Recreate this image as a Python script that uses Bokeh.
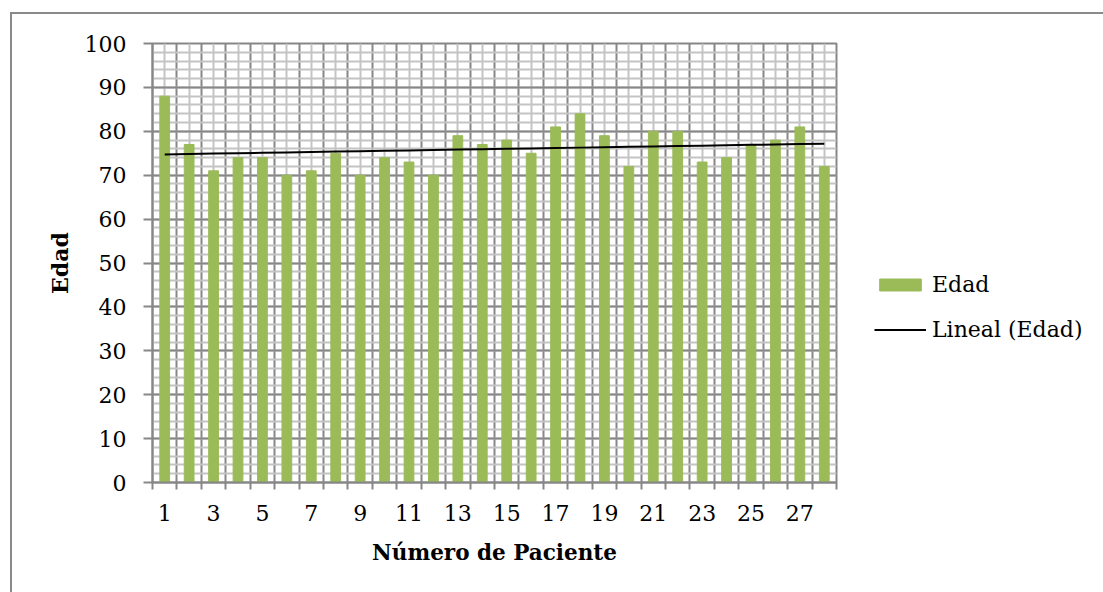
import numpy as np
from bokeh.plotting import figure
from bokeh.models import FixedTicker, Range1d, Legend, LegendItem
from bokeh.embed import file_html
from bokeh.resources import INLINE

# Patient ages by patient number
pacientes = list(range(1, 29))
edad = [88, 77, 71, 74, 74, 70, 71, 75, 70, 74, 73, 70, 79, 77,
        78, 75, 81, 84, 79, 72, 80, 80, 73, 74, 77, 78, 81, 72]
x_tick_labels = list(range(1, 28, 2))
y_ticks = list(range(0, 101, 10))

# Linear trend of the ages
slope, intercept = np.polyfit(pacientes, edad, 1)
trend = [slope * x + intercept for x in pacientes]

FONT = "DejaVu Serif"
DARK = "#878787"
LIGHT = "#c4c4c4"
GREEN = "#9BBB59"

p = figure(frame_width=684, frame_height=439, output_backend="svg", toolbar_location=None,
           x_range=Range1d(0.5, 28.5), y_range=Range1d(0, 100),
           min_border_left=140, min_border_top=29, min_border_right=267,
           min_border_bottom=110)
p.margin = (12, 0, 0, 10)
p.styles = {"border-top": "2px solid #8a8a8a", "border-left": "2px solid #8a8a8a"}

p.outline_line_color = DARK
p.outline_line_width = 2

# grid: boundaries between patients dark, centers light; y every 10 dark, every 2 light
bounds = [i + 0.5 for i in range(0, 29)]
p.xgrid.ticker = FixedTicker(ticks=bounds, minor_ticks=pacientes)
p.xgrid.grid_line_color = DARK
p.xgrid.grid_line_width = 2
p.xgrid.minor_grid_line_color = LIGHT
p.xgrid.minor_grid_line_width = 2

p.ygrid.ticker = FixedTicker(ticks=y_ticks, minor_ticks=list(range(0, 101, 2)))
p.ygrid.grid_line_color = DARK
p.ygrid.grid_line_width = 2
p.ygrid.minor_grid_line_color = LIGHT
p.ygrid.minor_grid_line_width = 2

bars = p.vbar(x=pacientes, top=edad, width=0.4, color=GREEN)
line = p.line(pacientes, trend, line_color="black", line_width=2)

# x axis: labels on odd patients, ticks on boundaries
xa = p.xaxis[0]
xa.ticker = FixedTicker(ticks=x_tick_labels, minor_ticks=bounds)
xa.major_tick_out = 0
xa.major_tick_in = 0
xa.minor_tick_out = 7
xa.minor_tick_in = 0
xa.minor_tick_line_color = DARK
xa.minor_tick_line_width = 2
xa.axis_line_color = DARK
xa.axis_line_width = 2
xa.major_label_text_font = FONT
xa.major_label_text_font_size = "22px"
xa.major_label_text_color = "black"
xa.major_label_standoff = 15
xa.axis_label = "Número de Paciente"
xa.axis_label_text_font = FONT
xa.axis_label_text_font_style = "bold"
xa.axis_label_text_font_size = "21.5px"
xa.axis_label_text_color = "black"
xa.axis_label_standoff = 16

ya = p.yaxis[0]
ya.ticker = FixedTicker(ticks=y_ticks)
ya.major_tick_out = 9
ya.major_tick_in = 0
ya.minor_tick_out = 0
ya.minor_tick_in = 0
ya.major_tick_line_color = DARK
ya.major_tick_line_width = 2
ya.axis_line_color = DARK
ya.axis_line_width = 2
ya.major_label_text_font = FONT
ya.major_label_text_font_size = "22px"
ya.major_label_text_color = "black"
ya.major_label_standoff = 17
ya.axis_label = "Edad"
ya.axis_label_text_font = FONT
ya.axis_label_text_font_style = "bold"
ya.axis_label_text_font_size = "22px"
ya.axis_label_text_color = "black"
ya.axis_label_standoff = 9

legend = Legend(items=[LegendItem(label="Edad", renderers=[bars]),
                       LegendItem(label="Lineal (Edad)", renderers=[line])],
                location=(38, 140), orientation="vertical")
legend.glyph_width = 52
legend.glyph_height = 15
legend.label_standoff = 6
legend.spacing = 20
legend.padding = 0
legend.margin = 0
legend.border_line_color = None
legend.background_fill_alpha = 0
legend.label_text_font = FONT
legend.label_text_font_size = "22px"
legend.label_text_color = "black"
p.add_layout(legend, "right")

open("out.html", "w").write(file_html(p, INLINE))
